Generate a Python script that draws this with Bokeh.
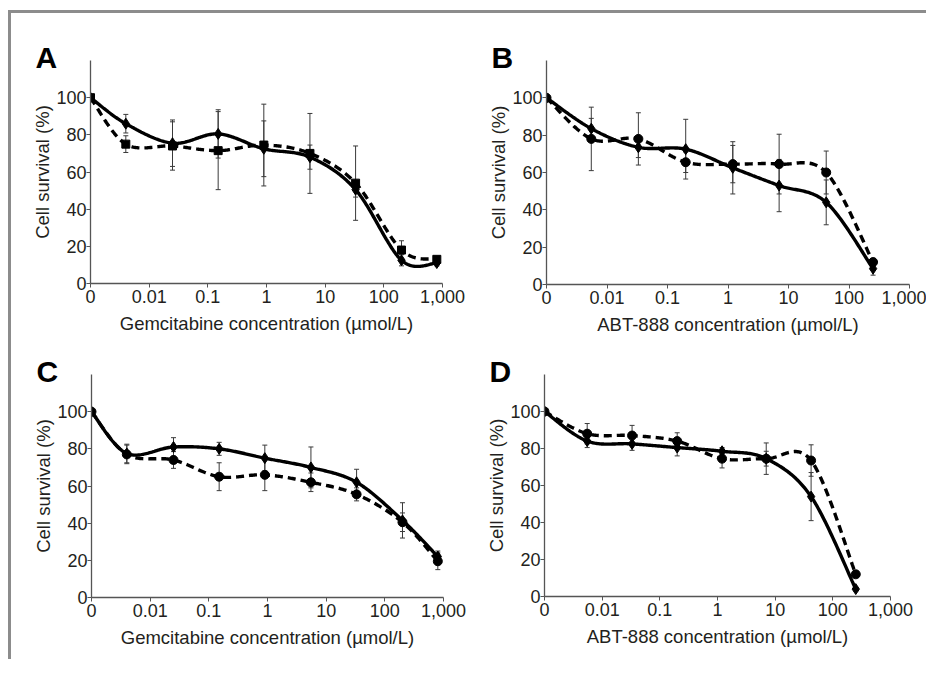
import numpy as np
from bokeh.plotting import figure
from bokeh.models import Range1d, FixedTicker, Whisker, ColumnDataSource, TeeHead, Spacer
from bokeh.layouts import column, row
from bokeh.embed import file_html
from bokeh.resources import INLINE

# ---- data (concentrations in µmol/L; 0 = untreated control) ----
gem_conc = [0, 0.004, 0.025, 0.15, 0.9, 5.5, 33, 200, 800]
abt_conc = [0, 0.0055, 0.033, 0.2, 1.2, 7, 42, 250]

A_solid = [100, 86, 75.5, 80.5, 72.5, 68, 50.5, 12.5, 11]
A_solid_err = [0, 5, 12.5, 13, 15, 6.5, 4, 3, 1.5]
A_dashed = [100, 75, 74, 71.5, 74.5, 70, 54, 18, 13]
A_dashed_err = [0, 4.5, 13, 21, 22, 21.5, 20, 5, 1.5]

B_solid = [100, 83.5, 73.5, 72.5, 62.5, 53, 44, 8.5]
B_solid_err = [0, 5.5, 5.5, 16, 14, 14, 12, 3.5]
B_dashed = [100, 78, 78, 65.5, 64.5, 64.5, 60, 12]
B_dashed_err = [0, 17, 14, 5.5, 10, 16, 11.5, 2]

C_solid = [100, 77.5, 81, 80, 75, 70, 62, 41.5, 22]
C_solid_err = [0, 5, 5, 3.5, 7, 11, 7, 9.5, 3]
C_dashed = [100, 77, 74, 65, 66, 62, 55.5, 40.5, 19.5]
C_dashed_err = [0, 5, 4.5, 7.5, 8.5, 5, 3.5, 5, 4.5]

D_solid = [100, 84, 82.5, 80.5, 78.5, 74.5, 54, 4]
D_solid_err = [0, 3.5, 3.5, 4.5, 2, 8.5, 13, 1]
D_dashed = [100, 88, 87, 84, 74.5, 74.5, 73.5, 12]
D_dashed_err = [0, 5.5, 5.5, 4.5, 5, 4, 8.5, 1]

x_tick_labels = ["0", "0.01", "0.1", "1", "10", "100", "1,000"]
y_ticks = [0, 20, 40, 60, 80, 100]

FONT = "Liberation Sans"
TXT = "#231f20"
AX = "#555555"


def to_pos(conc):
    c = np.asarray(conc, dtype=float)
    return np.log10(np.where(c == 0, 1e-3, c))


def smooth(xs, ys, n=40):
    P = np.column_stack([xs, ys])
    m = len(P)
    out = []
    for i in range(m - 1):
        p0 = P[i - 1] if i > 0 else P[i]
        p1, p2 = P[i], P[i + 1]
        p3 = P[i + 2] if i + 2 < m else P[i + 1]
        c1 = p1 + (p2 - p0) / 6.0
        c2 = p2 - (p3 - p1) / 6.0
        t = np.linspace(0, 1, n, endpoint=(i == m - 2))[:, None]
        seg = ((1 - t) ** 3) * p1 + 3 * ((1 - t) ** 2) * t * c1 + 3 * (1 - t) * t ** 2 * c2 + t ** 3 * p2
        out.append(seg)
    out = np.vstack(out)
    return out[:, 0], out[:, 1]


def panel(letter, conc, s, se, d, de, xlabel, dmarker, geom):
    lb, fw, rb, tb, fh, bb = geom
    p = figure(frame_width=fw, frame_height=fh,
               min_border_left=lb, min_border_right=rb,
               min_border_top=tb, min_border_bottom=bb,
               x_range=Range1d(-3, 3), y_range=Range1d(0, 120),
               output_backend="svg", toolbar_location=None)
    p.outline_line_color = None
    p.grid.visible = False
    p.background_fill_color = "white"
    p.border_fill_color = "white"

    # panel letter as the plot title, pulled left and down next to the y-axis top
    p.title.text = letter
    p.title.align = "left"
    p.title.offset = -55
    p.title.standoff = -26
    p.title.text_font = FONT
    p.title.text_font_size = "30px"
    p.title.text_font_style = "bold"
    p.title.text_color = "black"

    xs = to_pos(conc)
    for vals, errs in ((s, se), (d, de)):
        v = np.asarray(vals, float)
        e = np.asarray(errs, float)
        mask = e > 0
        src = ColumnDataSource(dict(x=xs[mask], up=(v + e)[mask], lo=(v - e)[mask]))
        w = Whisker(base="x", upper="up", lower="lo", source=src, dimension="height",
                    line_color="#3a3a3a", line_width=1,
                    upper_head=TeeHead(size=5, line_color="#3a3a3a", line_width=1),
                    lower_head=TeeHead(size=5, line_color="#3a3a3a", line_width=1))
        p.add_layout(w)

    sx, sy = smooth(xs, s)
    p.line(sx, sy, line_color="black", line_width=3.4)
    dx, dy = smooth(xs, d)
    p.line(dx, dy, line_color="black", line_width=3.4, line_dash="8 5")
    p.scatter(xs, s, marker="diamond", size=11, color="black")
    p.scatter(xs, d, marker=dmarker, size=9 if dmarker == "circle" else 8, color="black")

    xa = p.xaxis[0]
    xa.ticker = FixedTicker(ticks=[-3, -2, -1, 0, 1, 2, 3])
    xa.major_label_overrides = {i - 3: lab for i, lab in enumerate(x_tick_labels)}
    xa.axis_label = xlabel
    ya = p.yaxis[0]
    ya.ticker = FixedTicker(ticks=y_ticks)
    ya.axis_label = "Cell survival (%)"
    for ax in (xa, ya):
        ax.axis_line_color = AX
        ax.axis_line_width = 1.3
        ax.major_tick_line_color = AX
        ax.major_tick_in = 0
        ax.major_tick_out = 4
        ax.minor_tick_line_color = None
        ax.major_label_text_font = FONT
        ax.major_label_text_font_size = "18px"
        ax.major_label_text_color = TXT
        ax.axis_label_text_font = FONT
        ax.axis_label_text_font_size = "18.5px"
        ax.axis_label_text_font_style = "normal"
        ax.axis_label_text_color = TXT
    xa.major_label_standoff = 2
    xa.axis_label_standoff = 7
    ya.major_label_standoff = 0
    ya.axis_label_standoff = 0
    return p


gem_label = "Gemcitabine concentration (µmol/L)"
abt_label = "ABT-888 concentration (µmol/L)"

pA = panel("A", gem_conc, A_solid, A_solid_err, A_dashed, A_dashed_err, gem_label, "square",
           (79, 352, 26, 46, 223, 54))
pB = panel("B", abt_conc, B_solid, B_solid_err, B_dashed, B_dashed_err, abt_label, "circle",
           (78, 363, 17, 47, 224, 52))
pC = panel("C", gem_conc, C_solid, C_solid_err, C_dashed, C_dashed_err, gem_label, "circle",
           (80, 352, 25, 35, 223, 64))
pD = panel("D", abt_conc, D_solid, D_solid_err, D_dashed, D_dashed_err, abt_label, "circle",
           (76, 346, 36, 37, 222, 63))

inner = column(row(pA, pB), row(pC, pD),
               styles={"border-left": "3px solid #8c8c8c", "border-top": "3px solid #8c8c8c"})
layout = column(Spacer(height=10), row(Spacer(width=8), inner))

open("out.html", "w").write(file_html(layout, INLINE))
